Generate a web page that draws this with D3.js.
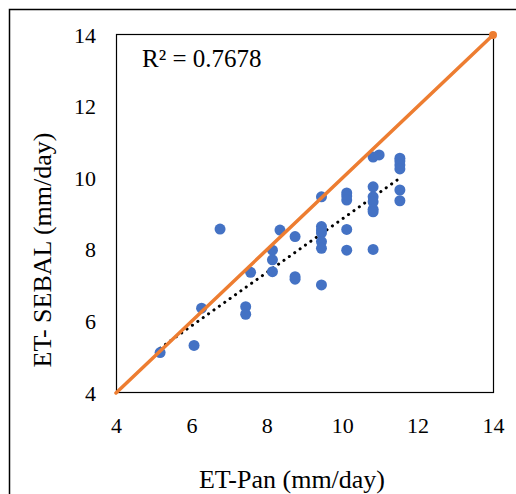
<!DOCTYPE html>
<html>
<head>
<meta charset="utf-8">
<script src="https://cdn.jsdelivr.net/npm/d3@7"></script>
<style>
  body { margin: 0; background: #fff; }
  svg text { font-family: "Liberation Serif", "Times New Roman", serif; fill: #000; }
</style>
</head>
<body>
<div id="chart"></div>
<script>
// ET-Pan (x) vs ET-SEBAL (y), mm/day
const etPan = [5.17, 6.07, 6.27, 6.76, 7.44, 7.44, 7.57, 8.15, 8.15, 8.15, 8.35,
  8.75, 8.75, 8.75, 9.45, 9.45, 9.45, 9.45, 9.45, 9.45, 9.45,
  10.12, 10.12, 10.12, 10.12, 10.12,
  10.82, 10.98, 10.82, 10.82, 10.82, 10.82, 10.82, 10.82,
  11.53, 11.53, 11.53, 11.53, 11.53, 11.53];
const etSebal = [5.13, 5.33, 6.37, 8.58, 6.41, 6.20, 7.37, 7.99, 7.72, 7.39, 8.55,
  8.37, 7.25, 7.18, 9.48, 8.65, 8.55, 8.47, 8.23, 8.04, 7.02,
  9.59, 9.50, 9.39, 8.57, 7.99,
  10.59, 10.65, 9.76, 9.48, 9.34, 9.13, 9.06, 8.01,
  10.56, 10.48, 10.37, 10.26, 9.67, 9.37];
const xTicks = [4, 6, 8, 10, 12, 14];
const yTicks = [4, 6, 8, 10, 12, 14];
const oneToOne = [4, 14];
// linear trendline as shown on the chart (y = a*x + b)
const trendSlope = 0.747;
const trendIntercept = 1.39;
const r2Label = "R\u00B2 = 0.7678";

const width = 516, height = 494;
const plot = {left: 116, top: 35, right: 493, bottom: 393};
const serif = "'Liberation Serif', 'Times New Roman', serif";

const svg = d3.select("#chart").append("svg")
    .attr("width", width)
    .attr("height", height);

// outer frame (runs off the right/bottom edge in the original)
svg.append("rect")
    .attr("x", 9.5).attr("y", 9.5)
    .attr("width", 520).attr("height", 500)
    .attr("fill", "none")
    .attr("stroke", "#000")
    .attr("stroke-width", 1.5);

const x = d3.scaleLinear().domain([4, 14]).range([plot.left, plot.right]);
const y = d3.scaleLinear().domain([4, 14]).range([plot.bottom, plot.top]);

// axes: labels only, no tick marks
svg.append("g")
    .attr("transform", `translate(0,${plot.bottom})`)
    .call(d3.axisBottom(x).tickValues(xTicks).tickSize(0).tickPadding(24))
    .attr("font-family", serif)
    .call(g => g.select(".domain").remove())
    .selectAll("text")
    .style("font-size", "22px");

svg.append("g")
    .attr("transform", `translate(${plot.left},0)`)
    .call(d3.axisLeft(y).tickValues(yTicks).tickSize(0).tickPadding(20))
    .attr("font-family", serif)
    .call(g => g.select(".domain").remove())
    .selectAll("text")
    .style("font-size", "22px");

// plot area border
svg.append("rect")
    .attr("x", plot.left + 0.5).attr("y", plot.top - 0.5)
    .attr("width", plot.right - plot.left)
    .attr("height", plot.bottom - plot.top)
    .attr("fill", "none")
    .attr("stroke", "#000")
    .attr("stroke-width", 1.2);

// dotted trendline over the data range
const xr = d3.extent(etPan);
svg.append("line")
    .attr("x1", x(xr[0])).attr("y1", y(trendIntercept + trendSlope * xr[0]))
    .attr("x2", x(xr[1])).attr("y2", y(trendIntercept + trendSlope * xr[1]))
    .attr("stroke", "#000")
    .attr("stroke-width", 3)
    .attr("stroke-linecap", "round")
    .attr("stroke-dasharray", "0.1 6.5");

// points
svg.append("g").selectAll("circle")
    .data(etPan)
    .join("circle")
    .attr("cx", d => x(d))
    .attr("cy", (d, i) => y(etSebal[i]))
    .attr("r", 5.5)
    .attr("fill", "#4472C4");

// 1:1 line
svg.append("line")
    .attr("x1", x(oneToOne[0])).attr("y1", y(oneToOne[0]))
    .attr("x2", x(oneToOne[1])).attr("y2", y(oneToOne[1]))
    .attr("stroke", "#ED7D31")
    .attr("stroke-width", 3.5)
    .attr("stroke-linecap", "round");
svg.append("circle")
    .attr("cx", x(oneToOne[1])).attr("cy", y(oneToOne[1]))
    .attr("r", 4)
    .attr("fill", "#ED7D31");

svg.append("text")
    .attr("x", 142).attr("y", 67)
    .attr("font-family", serif)
    .style("font-size", "25px")
    .text(r2Label);

// axis titles
svg.append("text")
    .attr("x", 292).attr("y", 488)
    .attr("text-anchor", "middle")
    .attr("font-family", serif)
    .style("font-size", "26px")
    .text("ET-Pan (mm/day)");

svg.append("text")
    .attr("transform", "translate(51,250) rotate(-90)")
    .attr("text-anchor", "middle")
    .attr("font-family", serif)
    .style("font-size", "26px")
    .text("ET- SEBAL (mm/day)");
</script>
</body>
</html>
